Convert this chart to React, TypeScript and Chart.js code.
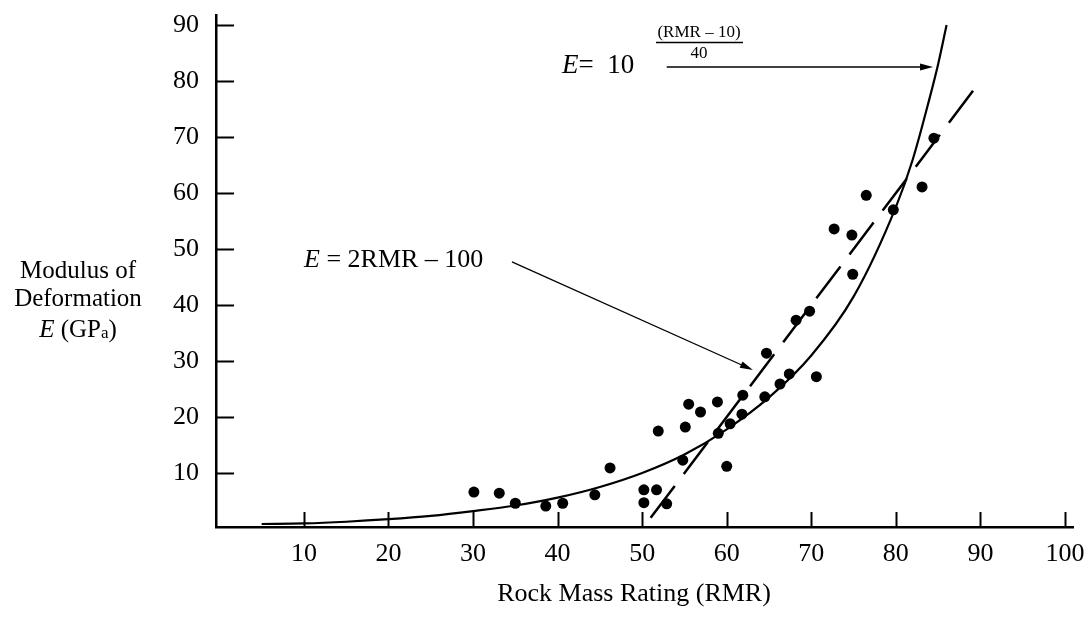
import React, { useEffect, useRef } from "react";
import { Chart, registerables } from "chart.js";

Chart.register(...registerables);

// ---- Data ----
const rmrValues = [
  30.1, 33.1, 35.0, 38.6, 40.6, 44.4, 46.2, 50.2, 50.2, 51.7, 52.9, 51.9,
  55.1, 54.8, 55.5, 56.9, 58.9, 59.0, 60.4, 61.8, 61.9, 64.5, 64.7, 66.3,
  67.4, 68.2, 69.8, 70.6, 72.7, 74.8, 74.9, 76.5, 79.7, 83.1, 84.5, 60.0,
];
const modulusValues = [
  6.6, 6.4, 4.6, 4.1, 4.6, 6.1, 10.9, 7.0, 4.7, 7.0, 4.5, 17.5,
  18.2, 12.3, 22.3, 20.9, 22.7, 17.1, 18.8, 20.5, 23.9, 23.6, 31.4, 25.9,
  27.7, 37.3, 38.9, 27.2, 53.6, 52.5, 45.5, 59.6, 57.0, 61.1, 69.8, 11.2,
];
// exponential curve E = 10^((RMR-10)/40), as drawn
const curveRmr = [5, 10, 15, 20, 25, 30, 35, 40, 45, 50, 55, 60, 65, 70, 75, 80, 82, 84, 85, 86];
const curveE = [0.9, 1.0, 1.3, 1.75, 2.35, 3.2, 4.2, 5.6, 7.5, 10, 13.3, 17.8, 23.5, 31, 41.5, 57.5, 66, 77, 83, 90];
// straight line E = 2RMR - 100
const lineRmr = [51, 89.5];
const lineE = [2, 79];

const xTickValues = [10, 20, 30, 40, 50, 60, 70, 80, 90, 100];
const yTickValues = [10, 20, 30, 40, 50, 60, 70, 80, 90];

const FONT = "'Liberation Serif', 'Times New Roman', Times, serif";

type Seg = { t: string; italic?: boolean; size: number; dy?: number };

function drawRich(ctx: CanvasRenderingContext2D, segs: Seg[], x: number, y: number, align: "left" | "center") {
  ctx.textBaseline = "alphabetic";
  ctx.textAlign = "left";
  const widths = segs.map((s) => {
    ctx.font = `${s.italic ? "italic " : ""}${s.size}px ${FONT}`;
    return ctx.measureText(s.t).width;
  });
  const total = widths.reduce((a, b) => a + b, 0);
  let cx = align === "center" ? x - total / 2 : x;
  segs.forEach((s, i) => {
    ctx.font = `${s.italic ? "italic " : ""}${s.size}px ${FONT}`;
    ctx.fillText(s.t, cx, y + (s.dy || 0));
    cx += widths[i];
  });
}

function drawArrow(ctx: CanvasRenderingContext2D, x1: number, y1: number, x2: number, y2: number, lw: number) {
  ctx.lineWidth = lw;
  const a = Math.atan2(y2 - y1, x2 - x1);
  const head = 13;
  const hw = 3.5;
  ctx.beginPath();
  ctx.moveTo(x1, y1);
  ctx.lineTo(x2 - head * 0.8 * Math.cos(a), y2 - head * 0.8 * Math.sin(a));
  ctx.stroke();
  ctx.beginPath();
  ctx.moveTo(x2, y2);
  ctx.lineTo(x2 - head * Math.cos(a) + hw * Math.sin(a), y2 - head * Math.sin(a) - hw * Math.cos(a));
  ctx.lineTo(x2 - head * Math.cos(a) - hw * Math.sin(a), y2 - head * Math.sin(a) + hw * Math.cos(a));
  ctx.closePath();
  ctx.fill();
}

const decorPlugin = {
  id: "decor",
  afterDatasetsDraw(chart: any) {
    const ctx: CanvasRenderingContext2D = chart.ctx;
    const xs = chart.scales.x;
    const ys = chart.scales.y;
    const area = chart.chartArea;
    ctx.save();
    ctx.strokeStyle = "#000";
    ctx.fillStyle = "#000";

    // inward tick marks
    ctx.lineWidth = 2;
    xTickValues.forEach((v) => {
      const px = Math.round(xs.getPixelForValue(v)) + 0.5;
      ctx.beginPath();
      ctx.moveTo(px, area.bottom);
      ctx.lineTo(px, area.bottom - 15);
      ctx.stroke();
    });
    yTickValues.forEach((v) => {
      const py = Math.round(ys.getPixelForValue(v)) + 0.5;
      ctx.beginPath();
      ctx.moveTo(area.left, py);
      ctx.lineTo(area.left + 18, py);
      ctx.stroke();
    });

    // arrow for E = 2RMR - 100
    drawArrow(ctx, xs.getPixelForValue(34.6), ys.getPixelForValue(47.7), xs.getPixelForValue(63.1), ys.getPixelForValue(28.4), 1.3);
    // arrow for exponential
    drawArrow(ctx, xs.getPixelForValue(52.9), ys.getPixelForValue(82.5), xs.getPixelForValue(84.4), ys.getPixelForValue(82.5), 1.5);

    // text: E = 2RMR - 100
    drawRich(ctx, [
      { t: "E", italic: true, size: 26 },
      { t: " = 2RMR \u2013 100", size: 26 },
    ], 304, 267, "left");

    // text: E = 10 ^ ((RMR-10)/40)
    drawRich(ctx, [
      { t: "E", italic: true, size: 27 },
      { t: "=  10", size: 27 },
    ], 562, 73, "left");
    ctx.font = `17px ${FONT}`;
    ctx.textAlign = "center";
    ctx.textBaseline = "middle";
    ctx.fillText("(RMR \u2013 10)", 699, 33);
    ctx.fillText("40", 699, 54);
    ctx.lineWidth = 1.3;
    ctx.beginPath();
    ctx.moveTo(656, 42.5);
    ctx.lineTo(743, 42.5);
    ctx.stroke();

    // y axis title (horizontal, three lines)
    ctx.textAlign = "center";
    ctx.textBaseline = "middle";
    ctx.font = `25px ${FONT}`;
    ctx.fillText("Modulus of", 78, 271);
    ctx.fillText("Deformation", 78, 299);
    drawRich(ctx, [
      { t: "E", italic: true, size: 25 },
      { t: " (GP", size: 25 },
      { t: "a", size: 17, dy: 1 },
      { t: ")", size: 25 },
    ], 78, 337, "center");

    // x axis title
    ctx.textAlign = "center";
    ctx.textBaseline = "middle";
    ctx.font = `26px ${FONT}`;
    ctx.fillText("Rock Mass Rating (RMR)", 634, 594);

    ctx.restore();
  },
};

export default function App() {
  const ref = useRef<HTMLCanvasElement>(null);

  useEffect(() => {
    document.body.style.margin = "0";
    const canvas = ref.current;
    if (!canvas) return;
    const chart = new Chart(canvas, {
      type: "scatter",
      data: {
        datasets: [
          {
            label: "curve",
            data: curveRmr.map((x, i) => ({ x, y: curveE[i] })),
            showLine: true,
            borderColor: "#000",
            borderWidth: 2.2,
            pointRadius: 0,
            cubicInterpolationMode: "monotone",
            fill: false,
          },
          {
            label: "line",
            data: lineRmr.map((x, i) => ({ x, y: lineE[i] })),
            showLine: true,
            borderColor: "#000",
            borderWidth: 2.5,
            borderDash: [40, 15],
            pointRadius: 0,
            fill: false,
          },
          {
            label: "points",
            data: rmrValues.map((x, i) => ({ x, y: modulusValues[i] })),
            showLine: false,
            pointRadius: 5.5,
            pointBackgroundColor: "#000",
            pointBorderWidth: 0,
            borderColor: "#000",
          },
        ],
      },
      options: {
        animation: false,
        responsive: false,
        events: [],
        layout: { padding: { left: 0, right: 17, top: 15, bottom: 0 } },
        plugins: {
          legend: { display: false },
          tooltip: { enabled: false },
          title: { display: false },
        },
        scales: {
          x: {
            type: "linear",
            min: -0.4,
            max: 100.95,
            afterBuildTicks: (s: any) => {
              s.ticks = xTickValues.map((v) => ({ value: v }));
            },
            afterFit: (s: any) => {
              s.height = 90;
              s.paddingLeft = 0;
              s.paddingRight = 0;
            },
            ticks: {
              font: { family: FONT, size: 26 },
              color: "#000",
              padding: 12,
              maxRotation: 0,
              autoSkip: false,
              callback: (v: any) => String(v),
            },
            grid: { display: false, drawTicks: false },
            border: { display: true, color: "#000", width: 2.5 },
          },
          y: {
            type: "linear",
            min: 0.36,
            max: 91.8,
            afterBuildTicks: (s: any) => {
              s.ticks = yTickValues.map((v) => ({ value: v }));
            },
            afterFit: (s: any) => {
              s.width = 216;
              s.paddingTop = 0;
              s.paddingBottom = 0;
            },
            ticks: {
              font: { family: FONT, size: 26 },
              color: "#000",
              padding: 17,
              autoSkip: false,
              callback: (v: any) => String(v),
            },
            grid: { display: false, drawTicks: false },
            border: { display: true, color: "#000", width: 2.5 },
          },
        },
      },
      plugins: [decorPlugin],
    } as any);
    return () => chart.destroy();
  }, []);

  return (
    <div style={{ width: 1090, height: 617, background: "#fff" }}>
      <canvas ref={ref} width={1090} height={617} style={{ display: "block" }} />
    </div>
  );
}
